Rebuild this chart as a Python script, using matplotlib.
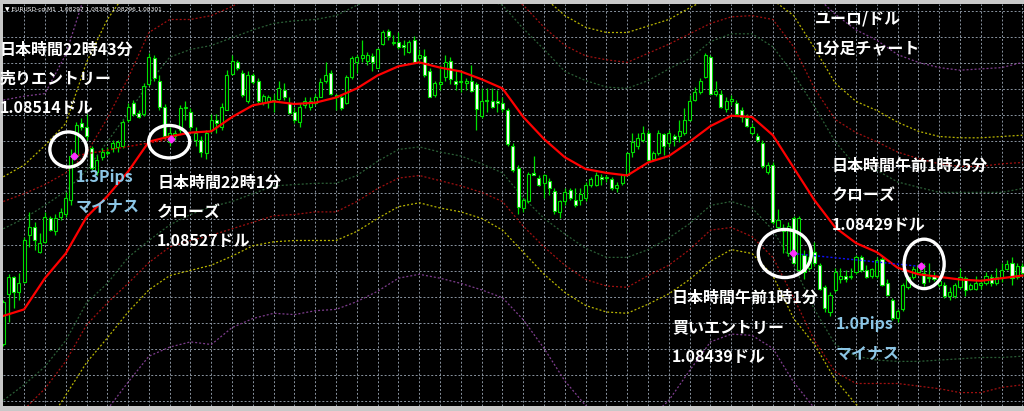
import numpy as np
import matplotlib
matplotlib.use('Agg')
import matplotlib.pyplot as plt
from matplotlib.patches import Ellipse

# EURUSD M1 candles, prices in points (1 point = 0.00001)
opens = [
    108369, 108408, 108421, 108409, 108417, 108453, 108459, 108440, 108448, 108466,
    108456, 108467, 108469, 108480, 108514, 108539, 108536, 108520, 108502, 108513,
    108516, 108520, 108521, 108522, 108542, 108555, 108547, 108546, 108569, 108589,
    108572, 108552, 108525, 108529, 108534, 108551, 108548, 108526, 108526, 108516,
    108534, 108542, 108536, 108549, 108577, 108586, 108578, 108556, 108576, 108572,
    108555, 108556, 108557, 108558, 108565, 108555, 108548, 108540, 108553, 108552,
    108555, 108559, 108572, 108578, 108559, 108559, 108555, 108575, 108586, 108589,
    108587, 108591, 108582, 108600, 108610, 108601, 108602, 108599, 108594, 108603,
    108589, 108591, 108579, 108561, 108569, 108575, 108587, 108572, 108572, 108570,
    108572, 108569, 108545, 108557, 108556, 108556, 108555, 108549, 108522, 108505,
    108474, 108479, 108501, 108497, 108493, 108495, 108487, 108471, 108479, 108488,
    108480, 108480, 108482, 108492, 108492, 108498, 108497, 108496, 108489, 108493,
    108499, 108517, 108522, 108526, 108532, 108512, 108516, 108531, 108524, 108529,
    108529, 108532, 108542, 108557, 108563, 108575, 108590, 108562, 108562, 108550,
    108556, 108555, 108549, 108543, 108532, 108529, 108524, 108502, 108507, 108459,
    108458, 108439, 108466, 108426, 108438, 108428, 108440, 108430, 108413, 108394,
    108411, 108419, 108422, 108421, 108425, 108436, 108426, 108422, 108422, 108435,
    108416, 108403, 108389, 108396, 108413, 108421, 108425, 108424, 108420, 108422,
    108415, 108415, 108406, 108406, 108413, 108420, 108412, 108412, 108415, 108416,
    108421, 108416, 108420, 108427, 108432, 108421, 108429]
highs = [
    108403, 108423, 108422, 108424, 108452, 108471, 108463, 108455, 108471, 108468,
    108469, 108474, 108486, 108519, 108540, 108543, 108546, 108522, 108515, 108520,
    108521, 108526, 108526, 108542, 108555, 108557, 108549, 108570, 108593, 108592,
    108576, 108554, 108536, 108534, 108553, 108556, 108551, 108536, 108529, 108534,
    108546, 108546, 108555, 108580, 108592, 108588, 108580, 108579, 108578, 108574,
    108562, 108561, 108562, 108572, 108570, 108559, 108552, 108555, 108559, 108559,
    108562, 108574, 108586, 108580, 108562, 108561, 108576, 108591, 108592, 108603,
    108594, 108593, 108597, 108611, 108612, 108607, 108609, 108603, 108603, 108606,
    108596, 108596, 108582, 108572, 108584, 108592, 108590, 108580, 108580, 108574,
    108584, 108571, 108566, 108566, 108566, 108565, 108559, 108551, 108524, 108507,
    108482, 108502, 108514, 108499, 108500, 108497, 108489, 108480, 108489, 108489,
    108489, 108489, 108494, 108498, 108502, 108500, 108499, 108498, 108494, 108500,
    108517, 108532, 108532, 108537, 108534, 108518, 108534, 108532, 108534, 108531,
    108542, 108551, 108561, 108567, 108574, 108593, 108592, 108572, 108565, 108559,
    108561, 108557, 108552, 108546, 108539, 108532, 108526, 108509, 108509, 108473,
    108462, 108463, 108468, 108468, 108442, 108442, 108448, 108432, 108415, 108409,
    108428, 108428, 108426, 108428, 108438, 108438, 108430, 108428, 108436, 108436,
    108419, 108405, 108396, 108416, 108422, 108429, 108431, 108432, 108432, 108425,
    108422, 108417, 108413, 108416, 108428, 108422, 108416, 108422, 108419, 108425,
    108423, 108428, 108432, 108434, 108436, 108432, 108432]
lows = [
    108368, 108386, 108397, 108403, 108416, 108444, 108442, 108439, 108447, 108456,
    108453, 108465, 108467, 108476, 108512, 108534, 108526, 108503, 108499, 108511,
    108515, 108517, 108517, 108520, 108540, 108545, 108543, 108545, 108568, 108572,
    108549, 108526, 108522, 108526, 108532, 108542, 108534, 108522, 108513, 108512,
    108532, 108532, 108534, 108549, 108576, 108580, 108559, 108555, 108569, 108554,
    108553, 108551, 108548, 108557, 108557, 108546, 108539, 108536, 108551, 108549,
    108553, 108559, 108570, 108561, 108549, 108549, 108554, 108573, 108578, 108586,
    108584, 108579, 108582, 108599, 108603, 108599, 108596, 108592, 108593, 108586,
    108586, 108575, 108559, 108559, 108565, 108572, 108569, 108565, 108563, 108565,
    108563, 108534, 108543, 108548, 108551, 108548, 108548, 108522, 108502, 108469,
    108471, 108478, 108499, 108491, 108482, 108484, 108469, 108466, 108476, 108480,
    108475, 108476, 108479, 108490, 108491, 108492, 108494, 108488, 108486, 108492,
    108499, 108513, 108519, 108525, 108509, 108511, 108515, 108515, 108521, 108522,
    108525, 108530, 108541, 108556, 108562, 108574, 108562, 108560, 108551, 108548,
    108553, 108546, 108540, 108536, 108530, 108525, 108505, 108500, 108462, 108456,
    108439, 108437, 108431, 108425, 108419, 108426, 108429, 108411, 108394, 108391,
    108409, 108416, 108417, 108419, 108423, 108425, 108420, 108420, 108420, 108414,
    108406, 108388, 108386, 108395, 108412, 108419, 108423, 108414, 108417, 108418,
    108413, 108405, 108403, 108405, 108412, 108406, 108411, 108411, 108412, 108415,
    108414, 108415, 108417, 108426, 108415, 108419, 108422]
closes = [
    108402, 108421, 108409, 108416, 108449, 108459, 108449, 108447, 108467, 108457,
    108466, 108471, 108482, 108514, 108538, 108536, 108529, 108505, 108511, 108517,
    108517, 108524, 108525, 108540, 108552, 108546, 108544, 108568, 108590, 108574,
    108552, 108529, 108532, 108532, 108551, 108552, 108536, 108532, 108517, 108532,
    108542, 108539, 108552, 108576, 108587, 108582, 108561, 108576, 108571, 108556,
    108560, 108559, 108556, 108566, 108559, 108547, 108542, 108552, 108556, 108556,
    108559, 108571, 108576, 108562, 108561, 108551, 108575, 108589, 108590, 108592,
    108592, 108586, 108596, 108609, 108606, 108602, 108598, 108598, 108602, 108586,
    108592, 108576, 108559, 108570, 108571, 108586, 108573, 108569, 108571, 108572,
    108564, 108550, 108556, 108556, 108552, 108555, 108550, 108523, 108503, 108475,
    108480, 108500, 108499, 108492, 108499, 108489, 108472, 108479, 108486, 108482,
    108476, 108485, 108492, 108496, 108499, 108496, 108498, 108489, 108492, 108499,
    108516, 108525, 108528, 108532, 108511, 108516, 108532, 108522, 108532, 108527,
    108533, 108542, 108556, 108563, 108572, 108592, 108562, 108564, 108552, 108556,
    108558, 108546, 108544, 108537, 108536, 108526, 108506, 108507, 108463, 108465,
    108456, 108460, 108432, 108466, 108425, 108436, 108432, 108412, 108397, 108407,
    108425, 108422, 108419, 108422, 108436, 108426, 108421, 108427, 108434, 108415,
    108407, 108389, 108395, 108415, 108421, 108427, 108430, 108416, 108421, 108419,
    108418, 108406, 108409, 108415, 108421, 108411, 108415, 108416, 108416, 108422,
    108416, 108421, 108426, 108431, 108420, 108429, 108424]

# moving average and bands, read every 4 bars
line_idx = list(range(0, 197, 4))
ma_line = [
    108391, 108396, 108420, 108439, 108467, 108483, 108502, 108525, 108529, 108532,
    108533, 108544, 108553, 108556, 108554, 108555, 108559, 108566, 108576, 108583,
    108586, 108582, 108579, 108573, 108566, 108544, 108527, 108513, 108504, 108501,
    108499, 108509, 108514, 108525, 108537, 108545, 108544, 108530, 108505, 108480,
    108459, 108447, 108440, 108428, 108423, 108421, 108419, 108418, 108420, 108422]
green_up = [
    108458, 108466, 108476, 108487, 108503, 108525, 108547, 108570, 108590, 108596,
    108599, 108605, 108611, 108616, 108618, 108619, 108622, 108630, 108636, 108640,
    108642, 108642, 108640, 108636, 108630, 108612, 108596, 108579, 108572, 108567,
    108566, 108572, 108581, 108589, 108602, 108608, 108608, 108598, 108577, 108552,
    108525, 108506, 108503, 108494, 108490, 108486, 108486, 108486, 108486, 108489]
green_dn = [
    108326, 108338, 108352, 108372, 108401, 108416, 108436, 108449, 108461, 108469,
    108475, 108479, 108485, 108491, 108492, 108493, 108493, 108499, 108510, 108519,
    108521, 108517, 108514, 108508, 108501, 108482, 108466, 108454, 108443, 108436,
    108436, 108442, 108451, 108462, 108476, 108479, 108474, 108457, 108430, 108396,
    108369, 108360, 108357, 108356, 108356, 108357, 108358, 108359, 108359, 108360]
red_up = [
    108479, 108485, 108492, 108501, 108516, 108543, 108574, 108609, 108619, 108619,
    108622, 108629, 108638, 108646, 108646, 108646, 108646, 108646, 108646, 108646,
    108646, 108646, 108646, 108646, 108638, 108630, 108613, 108599, 108591, 108588,
    108586, 108593, 108600, 108608, 108616, 108621, 108622, 108619, 108598, 108566,
    108542, 108532, 108525, 108517, 108512, 108508, 108506, 108506, 108508, 108509]
red_dn = [
    108303, 108319, 108335, 108356, 108384, 108401, 108416, 108432, 108444, 108449,
    108453, 108458, 108463, 108468, 108469, 108471, 108471, 108479, 108489, 108497,
    108499, 108495, 108491, 108486, 108479, 108460, 108444, 108430, 108419, 108414,
    108413, 108422, 108430, 108442, 108457, 108459, 108452, 108436, 108405, 108372,
    108348, 108339, 108339, 108339, 108337, 108335, 108332, 108332, 108336, 108338]
yellow_up = [
    108498, 108507, 108522, 108539, 108586, 108619, 108642, 108661, 108669, 108669,
    108669, 108669, 108669, 108669, 108669, 108669, 108669, 108669, 108669, 108669,
    108669, 108669, 108669, 108669, 108669, 108657, 108636, 108622, 108613, 108609,
    108609, 108614, 108619, 108628, 108636, 108640, 108640, 108634, 108622, 108597,
    108570, 108556, 108549, 108540, 108533, 108529, 108528, 108528, 108529, 108530]
yellow_dn = [
    108272, 108288, 108305, 108330, 108355, 108374, 108394, 108411, 108422, 108426,
    108430, 108437, 108445, 108448, 108449, 108449, 108449, 108456, 108466, 108475,
    108478, 108474, 108471, 108466, 108457, 108440, 108423, 108409, 108399, 108394,
    108393, 108400, 108408, 108419, 108433, 108442, 108439, 108422, 108389, 108369,
    108342, 108323, 108311, 108307, 108305, 108305, 108305, 108305, 108306, 108307]
purple_up = [
    108557, 108560, 108562, 108592, 108642, 108665, 108672, 108672, 108672, 108672,
    108672, 108672, 108672, 108672, 108672, 108672, 108672, 108672, 108672, 108672,
    108672, 108672, 108672, 108672, 108672, 108672, 108672, 108672, 108672, 108672,
    108672, 108672, 108672, 108672, 108672, 108672, 108672, 108672, 108657, 108638,
    108623, 108611, 108603, 108592, 108586, 108582, 108580, 108581, 108582, 108586]
purple_dn = [
    108234, 108257, 108280, 108292, 108303, 108319, 108340, 108360, 108367, 108371,
    108369, 108382, 108389, 108393, 108392, 108395, 108396, 108402, 108410, 108420,
    108423, 108420, 108416, 108411, 108405, 108388, 108366, 108341, 108322, 108311,
    108307, 108311, 108326, 108349, 108371, 108377, 108376, 108366, 108340, 108320,
    108296, 108280, 108265, 108265, 108265, 108265, 108265, 108265, 108265, 108265]

# trades: bar position and price
sell_bars = [13.6, 32.2]
sell_prices = [1.08514, 1.08527]
buy_bars = [151.9, 176.5]
buy_prices = [1.08439, 1.08429]

# white circles (bar, price, width in bars, height in points)
circles = [(12.5, 108519, 7.1, 27), (31.9, 108525, 7.9, 25),
           (150.3, 108439, 10.2, 37), (177.1, 108431, 7.7, 38)]

W, H = 1024, 411
fig = plt.figure(figsize=(W / 100, H / 100), dpi=100, facecolor='#c8c8c8')
ax = fig.add_axes([3 / W, 5 / H, 1021 / W, 402 / H])
ax.set_facecolor('black')
ax.set_xlim(-0.06, 196.3)
ax.set_ylim(1.0832169, 1.0863092)
ax.set_xticks([])
ax.set_yticks([])
for s in ax.spines.values():
    s.set_visible(False)

# grid
grid_ls = (0, (2, 2))
for gx in range(4, 197, 4):
    ax.axvline(gx, color='#8a94a0', lw=0.7, ls=grid_ls, zorder=0)
for k in range(16):
    ax.axhline((108625.5 - 20 * k) / 1e5, color='#8a94a0', lw=0.7, ls=grid_ls, zorder=0)

# bands
li = np.array(line_idx)
band_ls = (0, (1.6, 1.6))
for up, dn, col in [(green_up, green_dn, '#2b5e36'), (red_up, red_dn, '#a01010'),
                    (yellow_up, yellow_dn, '#b8b400'), (purple_up, purple_dn, '#7e3d8e')]:
    ax.plot(li, np.array(up) / 1e5, color=col, lw=0.9, ls=band_ls, zorder=1)
    ax.plot(li, np.array(dn) / 1e5, color=col, lw=0.9, ls=band_ls, zorder=1)

# candles
o = np.array(opens) / 1e5
h = np.array(highs) / 1e5
l = np.array(lows) / 1e5
c = np.array(closes) / 1e5
x = np.arange(len(o))
green = '#00e000'
ax.vlines(x, l, h, color=green, lw=0.9, zorder=2)
bull = c >= o
ax.bar(x, np.abs(c - o), bottom=np.minimum(o, c), width=0.6,
       color=np.where(bull, 'black', 'white'), edgecolor=green, lw=0.8, zorder=3)

# moving average
ax.plot(li, np.array(ma_line) / 1e5, color='#ff0000', lw=1.6, zorder=4)

# trade lines and arrows
ax.plot(sell_bars, sell_prices, color='#c00000', lw=1, ls=(0, (1.5, 1.5)), zorder=5)
ax.plot(buy_bars, buy_prices, color='#1010ff', lw=1, ls=(0, (1.5, 1.5)), zorder=5)
ax.plot(sell_bars + buy_bars, sell_prices + buy_prices, ls='none', marker='D',
        ms=3.5, color='#ff30ff', zorder=6)

for cx, cy, w, hh in circles:
    ax.add_patch(Ellipse((cx, cy / 1e5), w, hh / 1e5, fill=False,
                         ec='white', lw=2.4, zorder=7))

jp = ['Noto Sans CJK JP', 'DejaVu Sans']


def label(px, py, s, color='white'):
    fig.text(px / W, 1 - py / H, s, color=color, fontsize=11.5, fontweight='bold',
             family=jp, ha='left', va='center')


fig.text(5 / W, 1 - 9 / H, '▼ EURUSD-cd,M1  1.08297 1.08306 1.08296 1.08301',
         color='white', fontsize=4.2, family=['DejaVu Sans'], ha='left', va='center')

white_labels = [
    (0, 50, '日本時間22時43分'), (0, 79, '売りエントリー'), (0, 108, '1.08514ドル'),
    (157, 183, '日本時間22時1分'), (157, 212, 'クローズ'), (157, 241, '1.08527ドル'),
    (815, 19, 'ユーロ/ドル'), (815, 49, '1分足チャート'),
    (832, 166, '日本時間午前1時25分'), (832, 195, 'クローズ'), (832, 225, '1.08429ドル'),
    (672, 298, '日本時間午前1時1分'), (672, 327, '買いエントリー'), (672, 357, '1.08439ドル'),
]
blue_labels = [
    (76, 177, '1.3Pips'), (76, 207, 'マイナス'),
    (836, 324, '1.0Pips'), (836, 354, 'マイナス'),
]
for px, py, s in white_labels:
    label(px, py, s)
for px, py, s in blue_labels:
    label(px, py, s, color='#8cc6e6')

fig.savefig('out.png', dpi=100, facecolor=fig.get_facecolor())
